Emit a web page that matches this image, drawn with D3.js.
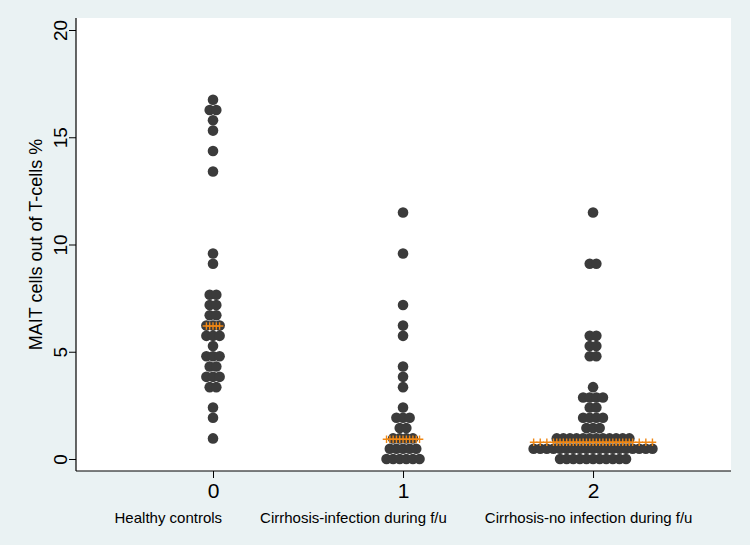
<!DOCTYPE html>
<html>
<head>
<meta charset="utf-8">
<script src="https://cdn.jsdelivr.net/npm/d3@7"></script>
<style>
  html, body { margin: 0; padding: 0; background: #eaf2f3; }
  svg { display: block; }
  text { font-family: "Liberation Sans", Arial, Helvetica, sans-serif; fill: #000; }
</style>
</head>
<body>
<svg id="chart" width="750" height="545"></svg>
<script>
// ---- Data ----
const groupCodes = [0, 1, 2];
const groupLabels = ["Healthy controls", "Cirrhosis-infection during f/u", "Cirrhosis-no infection during f/u"];

// binned MAIT % levels and number of dots at each level
const healthyLevels = [16.75, 16.27, 15.79, 15.31, 14.36, 13.4, 9.58, 9.1, 7.66, 7.18, 6.7, 6.22, 5.74, 5.27, 4.79, 4.31, 3.83, 3.35, 2.4, 1.92, 0.96];
const healthyCounts = [1, 2, 1, 1, 1, 1, 1, 1, 2, 2, 2, 3, 3, 1, 3, 2, 3, 2, 1, 1, 1];

const infectionLevels = [11.49, 9.58, 7.18, 6.22, 5.74, 4.31, 3.83, 3.35, 2.4, 1.92, 1.44, 0.96, 0.48, 0];
const infectionCounts = [1, 1, 1, 1, 1, 1, 1, 1, 1, 3, 2, 4, 5, 6];

const noInfectionLevels = [11.49, 9.1, 5.74, 5.27, 4.79, 3.35, 2.87, 2.4, 1.92, 1.44, 0.96, 0.48, 0];
const noInfectionCounts = [1, 2, 2, 2, 2, 1, 4, 2, 4, 3, 12, 19, 11];

const groupMedians = [6.2, 0.92, 0.78];

const yTicks = [0, 5, 10, 15, 20];
const yTitle = "MAIT cells out of T-cells %";

// ---- Layout ----
const svg = d3.select("#chart");
const W = 750, H = 545;
const plot = { left: 76, right: 731, top: 18, bottom: 471 };

svg.append("rect").attr("x", 0).attr("y", 0).attr("width", W).attr("height", H).attr("fill", "#eaf2f3");
svg.append("rect")
  .attr("x", plot.left).attr("y", plot.top)
  .attr("width", plot.right - plot.left).attr("height", plot.bottom - plot.top)
  .attr("fill", "#ffffff");

const x = d3.scaleLinear().domain([-0.721, 2.726]).range([plot.left, plot.right]);
const y = d3.scaleLinear().domain([-0.56, 20.56]).range([plot.bottom, plot.top]);

const dotStep = 6.6;   // horizontal px between dots in a row
const dotR = 5.3;

const groupsData = [
  { levels: healthyLevels, counts: healthyCounts },
  { levels: infectionLevels, counts: infectionCounts },
  { levels: noInfectionLevels, counts: noInfectionCounts }
];

const dots = [];
const plusX = [[], [], []];
groupsData.forEach((g, gi) => {
  const cx = x(groupCodes[gi]);
  const xs = new Set();
  g.levels.forEach((v, li) => {
    const n = g.counts[li];
    for (let i = 0; i < n; i++) {
      const off = (i - (n - 1) / 2) * dotStep;
      dots.push({ g: gi, v: v, px: cx + off });
      xs.add(Math.round(off * 100) / 100);
    }
  });
  plusX[gi] = Array.from(xs).sort((a, b) => a - b).map(o => cx + o);
});

// dots
svg.append("g").selectAll("circle").data(dots).join("circle")
  .attr("cx", d => d.px)
  .attr("cy", d => y(d.v))
  .attr("r", dotR)
  .attr("fill", "#3b3b3b");

// median line of pluses
const plusG = svg.append("g").attr("stroke", "#ef8714").attr("stroke-width", 1.4).attr("fill", "none");
groupMedians.forEach((m, gi) => {
  const py = y(m);
  plusX[gi].forEach(px => {
    plusG.append("path").attr("d", `M${px - 3.8},${py}H${px + 3.8}M${px},${py - 3.8}V${py + 3.8}`);
  });
});

// Y axis
const yAxis = d3.axisLeft(y).tickValues(yTicks).tickSize(7).tickPadding(0).tickFormat(d3.format("d"));
const gy = svg.append("g").attr("transform", `translate(${plot.left},0)`).call(yAxis);
gy.select(".domain").attr("d", `M0,${plot.top}V${plot.bottom}`).attr("stroke", "#000").attr("stroke-width", 1.2);
gy.selectAll(".tick line").attr("stroke", "#000").attr("stroke-width", 1);
gy.selectAll(".tick text")
  .attr("x", 0).attr("y", 0)
  .attr("transform", "translate(-22,0) rotate(-90)")
  .attr("text-anchor", "middle")
  .attr("dominant-baseline", "central")
  .style("font-size", "19px")
  .style("font-family", "'Liberation Sans', Arial, sans-serif");

// X axis
const xAxis = d3.axisBottom(x).tickValues(groupCodes).tickSize(7).tickPadding(0).tickFormat(d3.format("d"));
const gx = svg.append("g").attr("transform", `translate(0,${plot.bottom})`).call(xAxis);
gx.select(".domain").attr("d", `M${plot.left},0H${plot.right}`).attr("stroke", "#000").attr("stroke-width", 1.2);
gx.selectAll(".tick line").attr("stroke", "#000").attr("stroke-width", 1);
gx.selectAll(".tick text")
  .attr("y", 19).attr("dy", "0")
  .attr("dominant-baseline", "central")
  .style("font-size", "21px")
  .style("font-family", "'Liberation Sans', Arial, sans-serif");

// group value labels: one centred line under the axis
const labelGap = 38;
const labelG = svg.append("g");
const labelTexts = labelG.selectAll("text").data(groupLabels).join("text")
  .attr("y", plot.bottom + 46)
  .attr("dominant-baseline", "central")
  .style("font-size", "15px")
  .text(d => d);
const widths = [];
labelTexts.each(function () { widths.push(this.getComputedTextLength()); });
const total = d3.sum(widths) + labelGap * (widths.length - 1);
let cursor = (plot.left + plot.right) / 2 - total / 2;
labelTexts.attr("x", (d, i) => {
  const xx = cursor;
  cursor += widths[i] + labelGap;
  return xx;
});

// Y title
svg.append("text")
  .attr("transform", `translate(36,${(plot.top + plot.bottom) / 2}) rotate(-90)`)
  .attr("text-anchor", "middle")
  .attr("dominant-baseline", "central")
  .style("font-size", "18px")
  .text(yTitle);
</script>
</body>
</html>
